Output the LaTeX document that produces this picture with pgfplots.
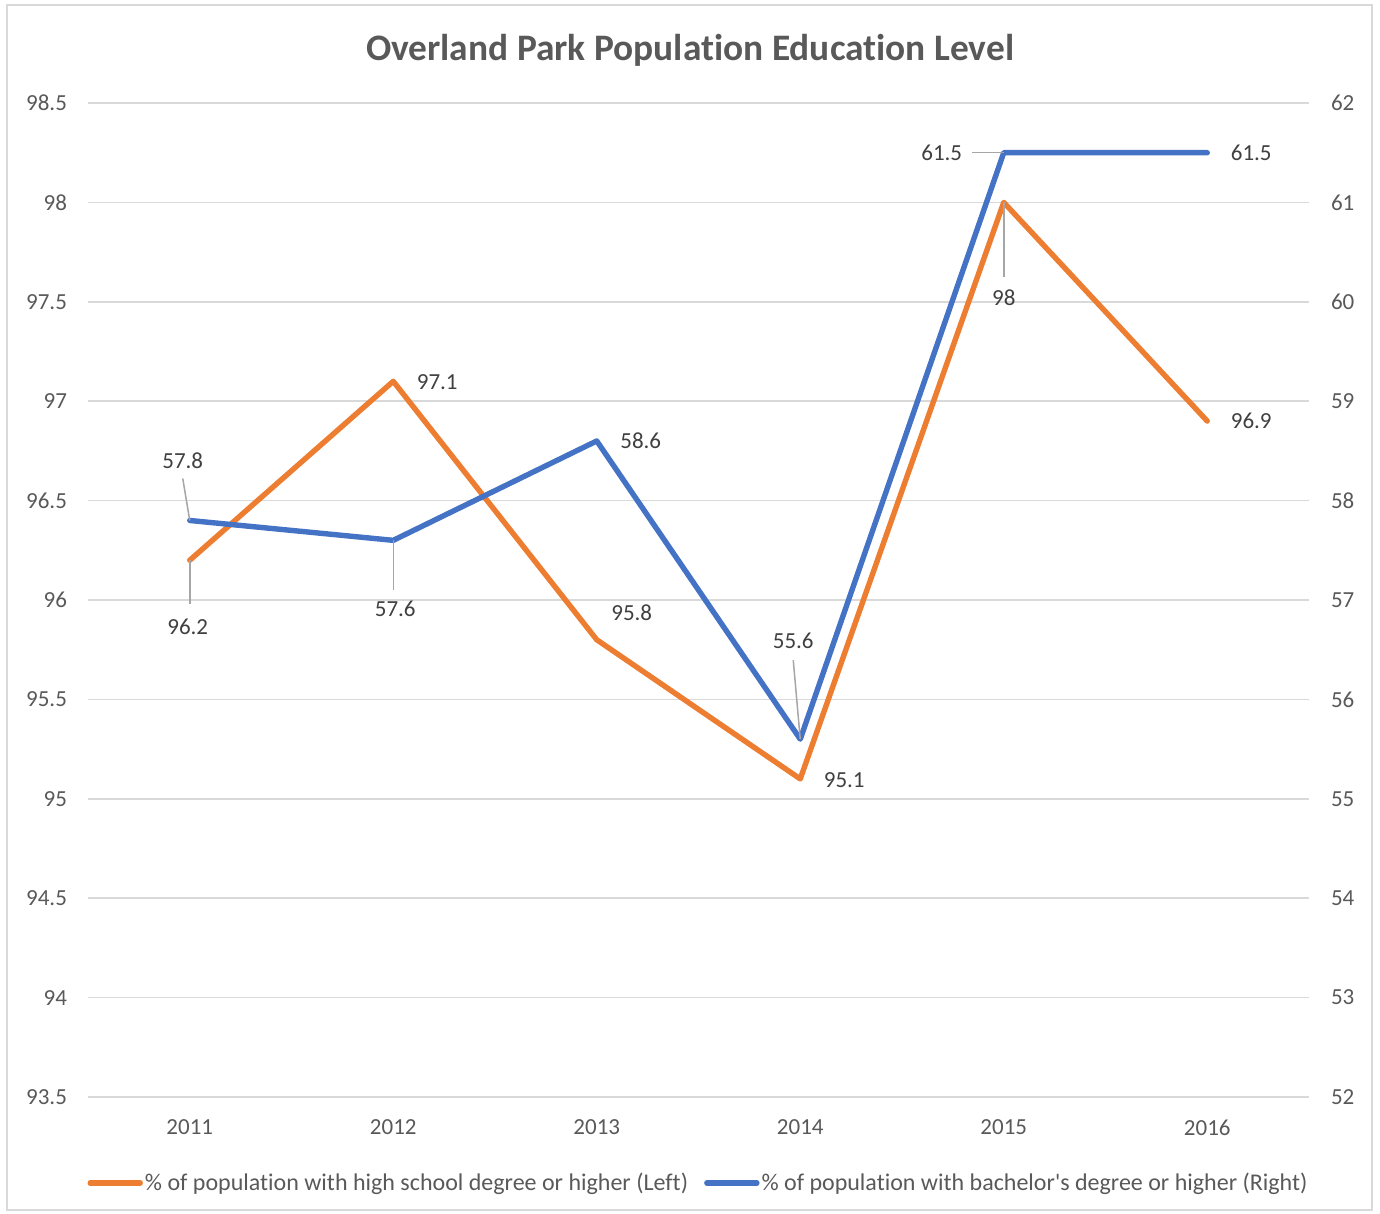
\documentclass[border=0pt]{standalone}
\usepackage{pgfplots}
\pgfplotsset{compat=1.18}
\usepackage{fontspec}
\setmainfont{Carlito}[Ligatures={NoCommon}]
\definecolor{cOrange}{HTML}{ED7D31}
\definecolor{cBlue}{HTML}{4472C4}
\definecolor{cText}{HTML}{595959}
\definecolor{cLab}{HTML}{404040}
\definecolor{cGrid}{HTML}{D9D9D9}
\definecolor{cLead}{HTML}{A6A6A6}
\pgfplotsset{
  common/.style={
    scale only axis, width=610.5pt, height=497pt,
    at={(44pt,58.5pt)}, anchor=south west,
    xmin=-0.5, xmax=5.5,
    axis line style={draw=none},
    major tick length=0pt,
    tick label style={font=\fontsize{11.5}{14}\selectfont, text=cText},
    /pgf/number format/assume math mode=true,
    /pgf/number format/.cd, fixed, /pgfplots/.cd,
  },
}
\begin{document}
\begin{tikzpicture}
\useasboundingbox (0,0) rectangle (690pt,607pt);
\draw[cGrid, line width=0.8pt] (3.5pt,2pt) rectangle (686pt,604.5pt);
\node[font=\fontsize{18.7}{22}\selectfont\bfseries, text=cText] at (345pt,582pt) {Overland Park Population Education Level};
% left axis
\begin{axis}[common,
  ymin=93.5, ymax=98.5, ytick={93.5,94,...,98.5},
  yticklabels={93.5,94,94.5,95,95.5,96,96.5,97,97.5,98,98.5},
  ymajorgrids, grid style={cGrid, line width=0.8pt},
  xtick={0,...,5}, xticklabels={2011,2012,2013,2014,2015,2016},
  xticklabel style={yshift=-8pt},
  yticklabel style={xshift=-7pt},
]
\addplot[cOrange, line width=2.7pt, line cap=round, line join=round] coordinates {
  (0,96.2) (1,97.1) (2,95.8) (3,95.1) (4,98) (5,96.9)};
\begin{scope}[every node/.style={font=\fontsize{11.5}{14}\selectfont, text=cLab}]
\draw[cLead, line width=0.75pt] (axis cs:0,96.2) -- ++(0pt,-22pt);
\node at (axis cs:0,96.2) [xshift=-1pt, yshift=-33.5pt] {96.2};
\node at (axis cs:1,97.1) [xshift=22pt, yshift=-0.5pt] {97.1};
\node at (axis cs:2,95.8) [xshift=17.5pt, yshift=13.5pt] {95.8};
\node at (axis cs:3,95.1) [xshift=22pt, yshift=-0.5pt] {95.1};
\draw[cLead, line width=0.75pt] (axis cs:4,98) -- ++(0pt,-37.5pt);
\node at (axis cs:4,98) [yshift=-47.5pt] {98};
\node at (axis cs:5,96.9) [xshift=22pt] {96.9};
\end{scope}
\end{axis}
% right axis
\begin{axis}[common,
  ymin=52, ymax=62, ytick={52,53,...,62},
  axis y line*=right,
  xtick=\empty,
  yticklabel style={xshift=7.5pt},
  legend style={at={(0.5,0)}, anchor=center, yshift=-43pt, draw=none, fill=none,
    legend columns=2, font=\fontsize{12}{14}\selectfont, text=cText,
    /tikz/every even column/.append style={column sep=7pt},
    nodes={inner sep=1pt}},
  legend image code/.code={\draw[#1, line width=2.7pt, line cap=round] (0pt,0pt) -- (25pt,0pt);},
]
\addlegendimage{cOrange}
\addlegendentry{\% of population with high school degree or higher (Left)}
\addplot[cBlue, line width=2.7pt, line cap=round, line join=round] coordinates {
  (0,57.8) (1,57.6) (2,58.6) (3,55.6) (4,61.5) (5,61.5)};
\addlegendentry{\% of population with bachelor\textquotesingle s degree or higher (Right)}
\begin{scope}[every node/.style={font=\fontsize{11.5}{14}\selectfont, text=cLab}]
\draw[cLead, line width=0.75pt] (axis cs:0,57.8) -- ++(-3.5pt,21pt);
\node at (axis cs:0,57.8) [xshift=-3.5pt, yshift=29.75pt] {57.8};
\draw[cLead, line width=0.75pt] (axis cs:1,57.6) -- ++(0pt,-25pt);
\node at (axis cs:1,57.6) [xshift=1pt, yshift=-34pt] {57.6};
\node at (axis cs:2,58.6) [xshift=22pt] {58.6};
\draw[cLead, line width=0.75pt] (axis cs:3,55.6) -- ++(-3.5pt,39.5pt);
\node at (axis cs:3,55.6) [xshift=-3.5pt, yshift=49pt] {55.6};
\draw[cLead, line width=0.75pt] (axis cs:4,61.5) -- ++(-16pt,0pt);
\node at (axis cs:4,61.5) [xshift=-31pt] {61.5};
\node at (axis cs:5,61.5) [xshift=22pt] {61.5};
\end{scope}
\end{axis}
\end{tikzpicture}
\end{document}
